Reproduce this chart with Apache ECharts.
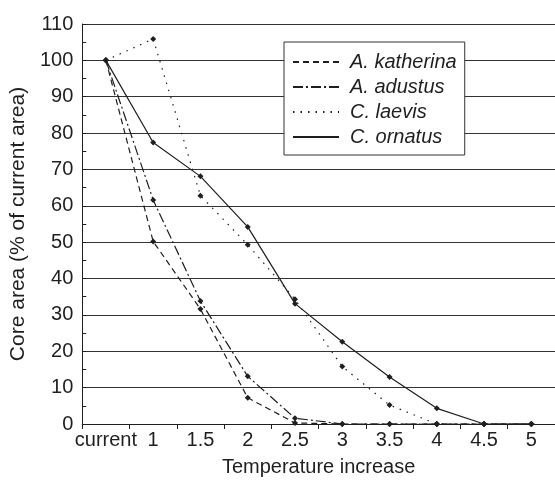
<!DOCTYPE html>
<html>
<head>
<meta charset="utf-8">
<script src="https://cdn.jsdelivr.net/npm/echarts@6/dist/echarts.min.js"></script>
<style>
html,body{margin:0;padding:0;background:#fff;}
#c{width:555px;height:482px;}
</style>
</head>
<body>
<div id="c"></div>
<script>
var categories = ['current', '1', '1.5', '2', '2.5', '3', '3.5', '4', '4.5', '5'];
var katherina = [100, 50.2, 31.6, 7.2, 0.3, 0, 0, 0, 0, 0];
var adustus = [100, 61.6, 33.8, 13.1, 1.6, 0, 0, 0, 0, 0];
var laevis = [100, 105.9, 62.8, 49.3, 34.3, 15.8, 5.2, 0, 0, 0];
var ornatus = [100, 77.4, 68.1, 54.2, 33.1, 22.6, 12.9, 4.3, 0, 0];
var seriesNames = ['A. katherina', 'A. adustus', 'C. laevis', 'C. ornatus'];

var FONT = 'Liberation Sans, Arial, sans-serif';
var INK = '#1f1f1f';

function mk(name, data, type) {
  return {
    name: name,
    type: 'line',
    data: data,
    symbol: 'diamond',
    symbolSize: 6,
    showSymbol: true,
    itemStyle: { color: INK },
    lineStyle: { color: INK, width: 1.2, type: type },
    z: 3
  };
}

var chart = echarts.init(document.getElementById('c'), null, { renderer: 'canvas' });
chart.setOption({
  animation: false,
  backgroundColor: '#fff',
  grid: { left: 82, top: 24, width: 481, height: 407, containLabel: false },
  legend: {
    data: seriesNames,
    orient: 'vertical',
    left: 284,
    top: 42,
    padding: [10, 5, 8, 8],
    itemGap: 5,
    itemWidth: 46,
    itemHeight: 12,
    backgroundColor: '#fff',
    borderColor: '#333',
    borderWidth: 1,
    itemStyle: { opacity: 0 },
    textStyle: { fontFamily: FONT, fontSize: 20, fontStyle: 'italic', color: INK, lineHeight: 20, padding: [0, 3, 0, 6] },
    selectedMode: false
  },
  xAxis: {
    type: 'category',
    data: categories,
    boundaryGap: true,
    name: 'Temperature increase',
    nameLocation: 'middle',
    nameGap: 33,
    nameTextStyle: { fontFamily: FONT, fontSize: 20, color: INK },
    axisLine: { lineStyle: { color: INK, width: 1 } },
    axisTick: { show: true, length: 5, alignWithLabel: false, lineStyle: { color: INK } },
    axisLabel: { fontFamily: FONT, fontSize: 20, color: INK, margin: 6, interval: 0 },
    splitLine: { show: false }
  },
  yAxis: {
    type: 'value',
    min: 0,
    max: 110,
    interval: 10,
    name: 'Core area (% of current area)',
    nameLocation: 'middle',
    nameGap: 50,
    nameTextStyle: { fontFamily: FONT, fontSize: 21, color: INK },
    axisLine: { show: true, lineStyle: { color: INK, width: 1 } },
    axisTick: { show: true, inside: true, length: 4, lineStyle: { color: INK } },
    minorTick: { show: true, splitNumber: 2, length: 4, lineStyle: { color: INK } },
    axisLabel: { fontFamily: FONT, fontSize: 20, color: INK, margin: 9 },
    splitLine: { show: true, lineStyle: { color: '#333', width: 1 } }
  },
  series: [
    mk(seriesNames[0], katherina, [6, 4]),
    mk(seriesNames[1], adustus, [10, 3, 2, 3]),
    mk(seriesNames[2], laevis, [1.5, 6]),
    mk(seriesNames[3], ornatus, 'solid')
  ]
});
</script>
</body>
</html>
